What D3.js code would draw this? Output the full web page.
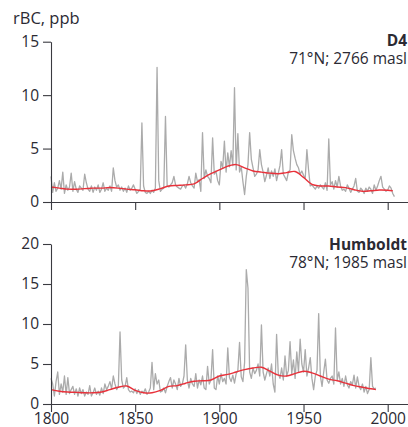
<!DOCTYPE html>
<html><head><meta charset="utf-8">
<script src="https://cdn.jsdelivr.net/npm/d3@7"></script>
<style>
body{margin:0;background:#fff}
text{font-family:"Open Sans",sans-serif;fill:#2b2a33}
</style>
</head><body><svg id="c" width="408" height="427"></svg>
<script>
// ---- Data ----
const d4StartYear = 1800;
const d4Values = [
  2.4,0.9,1.8,1.0,1.3,2.0,1.2,2.8,0.8,1.6,
  1.1,1.4,2.7,1.0,1.9,1.2,0.9,1.5,1.3,1.1,
  2.6,1.8,1.2,1.0,1.5,0.9,1.4,1.1,1.6,0.9,
  1.2,1.8,1.0,1.3,1.1,1.5,1.0,3.2,2.0,1.4,
  1.6,1.1,1.4,1.0,1.3,0.9,1.5,1.1,1.3,1.6,
  1.2,0.8,1.0,1.2,7.4,1.5,0.9,0.8,1.0,0.8,
  1.1,0.9,1.3,12.6,2.0,1.0,1.2,1.3,8.0,1.5,
  1.4,1.6,1.8,2.4,1.6,1.4,1.3,1.2,1.5,1.6,
  1.3,1.7,2.4,1.8,1.5,1.3,2.7,1.9,2.1,1.0,
  6.5,2.2,3.0,2.4,2.2,1.8,6.0,2.6,2.9,2.0,
  1.6,3.8,3.2,5.7,2.8,4.6,3.3,4.8,3.4,10.7,
  3.0,6.4,2.8,3.3,1.9,0.7,2.4,3.5,6.5,4.0,
  3.2,2.4,2.6,3.0,4.9,3.5,2.8,1.9,2.5,3.2,
  2.2,2.9,2.4,3.1,2.0,2.7,3.4,4.9,2.6,2.3,
  2.0,2.8,3.0,6.3,4.8,4.1,3.5,3.2,2.6,2.9,
  2.5,2.2,4.9,3.0,1.5,1.6,1.4,1.2,1.5,1.3,
  1.6,1.4,1.2,1.8,1.1,5.9,1.6,1.9,1.2,2.0,
  1.4,2.4,1.5,1.1,1.2,1.0,1.6,1.3,0.9,1.2,
  1.5,2.2,1.0,0.9,1.3,1.1,0.8,1.3,1.0,1.4,
  1.2,0.8,1.6,1.1,1.5,2.0,2.4,1.4,1.2,1.0,
  1.1,1.5,1.3,0.8,0.5
];
const d4SmoothYears = [1800,1805,1810,1815,1820,1825,1830,1835,1840,1845,1850,1855,1860,1865,1870,1875,1880,1885,1890,1895,1900,1905,1910,1915,1920,1925,1930,1935,1940,1945,1950,1955,1960,1965,1970,1975,1980,1985,1990,1995,2000,2003];
const d4SmoothValues = [1.4,1.3,1.2,1.2,1.25,1.3,1.3,1.35,1.3,1.2,1.15,1.05,1.05,1.25,1.5,1.55,1.6,1.7,2.2,2.65,3.0,3.35,3.5,3.2,2.9,2.8,2.7,2.65,2.75,2.85,2.3,1.65,1.5,1.5,1.4,1.35,1.15,1.0,1.05,1.12,1.1,1.05];

const humStartYear = 1800;
const humValues = [
  3.2,2.5,1.0,2.8,4.0,1.2,2.5,1.5,3.5,1.2,
  3.3,1.3,1.8,2.2,1.2,1.9,1.0,2.0,1.3,1.8,
  1.0,1.5,1.2,2.3,1.0,1.4,2.0,1.2,1.6,1.1,
  2.0,1.3,2.5,1.8,2.2,2.8,1.9,3.5,2.5,1.8,
  2.2,9.0,3.0,2.0,2.2,3.3,1.8,1.5,1.6,1.4,
  1.9,1.3,1.8,1.2,1.6,1.4,1.9,1.2,1.5,2.0,
  5.2,1.8,3.8,2.5,3.0,1.5,1.6,2.0,1.4,2.2,
  2.8,3.3,2.0,3.0,2.5,1.8,3.2,2.2,2.5,3.5,
  7.4,3.0,2.0,3.2,2.5,2.2,3.8,2.0,3.0,2.4,
  3.5,2.0,1.8,4.7,2.5,3.0,6.8,2.0,1.8,3.5,
  2.5,3.8,2.8,3.2,2.5,7.0,3.3,2.8,3.6,2.6,
  3.8,4.2,7.7,3.4,2.8,5.2,16.8,14.5,4.0,3.2,
  4.5,3.8,4.2,5.0,3.5,9.9,4.0,3.0,3.8,4.5,
  3.5,5.0,2.5,1.5,8.7,3.8,3.2,4.5,3.0,6.0,
  3.5,4.2,7.8,3.8,5.5,3.2,6.5,4.0,8.1,5.0,
  4.0,6.8,3.5,4.5,5.8,3.2,1.8,3.5,4.2,11.3,
  3.5,2.2,4.0,5.6,3.0,2.6,3.2,3.5,2.5,9.5,
  3.0,4.0,2.5,3.2,2.2,3.5,2.4,2.0,2.8,2.4,
  3.6,2.0,3.4,2.2,1.8,2.5,1.5,2.2,1.3,1.8,
  5.8,2.2,1.9,2.0
];
const humSmoothYears = [1800,1805,1810,1815,1820,1825,1830,1835,1840,1845,1850,1855,1860,1865,1870,1875,1880,1885,1890,1895,1900,1905,1910,1915,1920,1925,1930,1935,1940,1945,1950,1955,1960,1965,1970,1975,1980,1985,1990,1993];
const humSmoothValues = [1.8,1.6,1.5,1.45,1.4,1.4,1.5,1.8,2.1,2.25,1.7,1.4,1.4,1.7,2.2,2.3,2.6,2.85,2.9,3.0,3.5,3.7,4.0,4.3,4.5,4.6,4.1,3.6,3.5,3.8,4.1,3.9,3.5,3.1,2.9,2.6,2.3,2.1,1.9,1.8];

const xTicks = [1800,1850,1900,1950,2000];
const d4YTicks = [0,5,10,15];
const humYTicks = [0,5,10,15,20];
const yTitle = "rBC, ppb";
const d4Name = "D4", d4Info = "71°N; 2766 masl";
const humName = "Humboldt", humInfo = "78°N; 1985 masl";

// ---- Chart ----
const svg = d3.select("#c");
const x = d3.scaleLinear().domain([1800, 2012]).range([51, 407.9]);
const yTop = d3.scaleLinear().domain([0, 15]).range([202, 41.7]);
const yBot = d3.scaleLinear().domain([0, 20]).range([404, 244]);

const grey = "#ababab", red = "#e8313a", axisCol = "#3a3a40";
const fs = "15.5px";

function panel(y, yTicks, startYear, values, sYears, sValues, showLabels, name, info, nameY, infoY) {
  const g = svg.append("g");
  const series = values.map((v, i) => [startYear + i, v]);
  const smooth = sYears.map((yr, i) => [yr, sValues[i]]);
  g.append("path").datum(series)
    .attr("fill", "none").attr("stroke", grey).attr("stroke-width", 1.3).attr("stroke-linejoin", "round")
    .attr("d", d3.line().x(d => x(d[0])).y(d => y(d[1])));
  g.append("path").datum(smooth)
    .attr("fill", "none").attr("stroke", red).attr("stroke-width", 1.4)
    .attr("d", d3.line().curve(d3.curveCatmullRom).x(d => x(d[0])).y(d => y(d[1])));

  const ya = g.append("g").attr("transform", `translate(${x(1800)},0)`)
    .call(d3.axisLeft(y).tickValues(yTicks).tickSize(8).tickPadding(4).tickSizeOuter(0));
  const xa = g.append("g").attr("transform", `translate(0,${y(0)})`)
    .call(d3.axisBottom(x).tickValues(xTicks).tickSize(8).tickPadding(1).tickSizeOuter(0)
      .tickFormat(showLabels ? d3.format("d") : ""));
  [ya, xa].forEach(a => {
    a.selectAll("path,line").attr("stroke", axisCol).attr("stroke-width", 1.1);
    a.selectAll("text").attr("fill", "#2b2a33").style("font-family", '"Open Sans",sans-serif').style("font-size", fs);
  });
  g.append("text").attr("x", 407).attr("y", nameY).attr("text-anchor", "end")
    .style("font-weight", "bold").style("font-size", fs).text(name);
  g.append("text").attr("x", 407).attr("y", infoY).attr("text-anchor", "end")
    .style("font-size", fs).text(info);
}

panel(yTop, d4YTicks, d4StartYear, d4Values, d4SmoothYears, d4SmoothValues, false, d4Name, d4Info, 46, 64);
panel(yBot, humYTicks, humStartYear, humValues, humSmoothYears, humSmoothValues, true, humName, humInfo, 250, 268);

svg.append("text").attr("x", 13).attr("y", 24).style("font-size", "16.5px").text(yTitle);
</script>
</body></html>
